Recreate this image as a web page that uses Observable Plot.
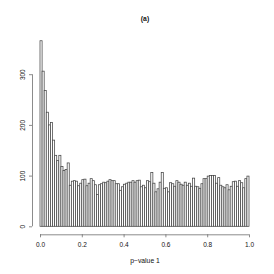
<!DOCTYPE html>
<html>
<head>
<meta charset="utf-8">
<script src="https://cdn.jsdelivr.net/npm/d3@7"></script>
<script src="https://cdn.jsdelivr.net/npm/@observablehq/plot@0.6"></script>
<style>
  html, body { margin: 0; padding: 0; background: #fff; }
  svg { display: block; }
</style>
</head>
<body>
<div id="chart"></div>
<script>
// Histogram of p-value 1: 100 bins of width 0.01 on [0, 1]
const binWidth = 0.01;
const counts = [
  366, 306, 268, 225, 200, 205, 170, 140, 130, 140,
  118, 110, 112, 125, 81, 89, 90, 89, 80, 85,
  92, 93, 80, 85, 94, 90, 82, 63, 82, 84,
  87, 86, 89, 92, 90, 90, 84, 84, 71, 78,
  83, 85, 87, 87, 90, 87, 90, 91, 78, 81,
  76, 90, 88, 106, 85, 68, 74, 87, 106, 75,
  76, 68, 86, 84, 79, 90, 87, 83, 81, 87,
  81, 85, 79, 95, 79, 78, 75, 84, 94, 94,
  99, 100, 100, 100, 85, 96, 81, 78, 76, 82,
  72, 79, 88, 89, 79, 90, 86, 76, 94, 99
];
const xTicks = [0, 0.2, 0.4, 0.6, 0.8, 1.0];
const yTicks = [0, 100, 200, 300];
const title = "(a)";
const xLabel = "p\u2212value 1";

const bins = counts.map((c, i) => ({x1: i * binWidth, x2: (i + 1) * binWidth, count: c}));

const axisColor = "#666";
const textColor = "#111";

const chart = Plot.plot({
  width: 274,
  height: 274,
  marginLeft: 40,
  marginRight: 25,
  marginTop: 23.5,
  marginBottom: 47.7,
  style: {fontFamily: "'Liberation Sans', Arial, sans-serif", fontSize: "6.5px", color: textColor, background: "#fff"},
  x: {domain: [0, 1], axis: null, label: null},
  y: {domain: [0, 400], axis: null, label: null},
  marks: [
    Plot.rectY(bins, {x1: "x1", x2: "x2", y: "count", fill: "#fff", stroke: "#444", strokeWidth: 0.75, inset: 0}),
    // y axis (R style, offset from plot)
    Plot.ruleX([0], {y1: 0, y2: 300, dx: -8, stroke: axisColor, strokeWidth: 0.75}),
    Plot.axisY({ticks: yTicks, label: null, tickSize: 3, dx: -8, tickRotate: -90, tickPadding: 5, stroke: axisColor, strokeWidth: 0.75, fill: textColor, tickFormat: d => String(d)}),
    // x axis
    Plot.ruleY([0], {x1: 0, x2: 1, dy: 8, stroke: axisColor, strokeWidth: 0.75}),
    Plot.axisX({ticks: xTicks, label: null, tickSize: 3, dy: 8, tickPadding: 5, stroke: axisColor, strokeWidth: 0.75, fill: textColor, tickFormat: d3.format(".1f")}),
    Plot.text([xLabel], {frameAnchor: "bottom", dy: 36, fill: textColor, fontSize: 6.8}),
    Plot.text([title], {frameAnchor: "top", dy: -7.5, fill: textColor, fontWeight: "bold", fontSize: 6.8})
  ]
});
document.getElementById("chart").appendChild(chart);
</script>
</body>
</html>
